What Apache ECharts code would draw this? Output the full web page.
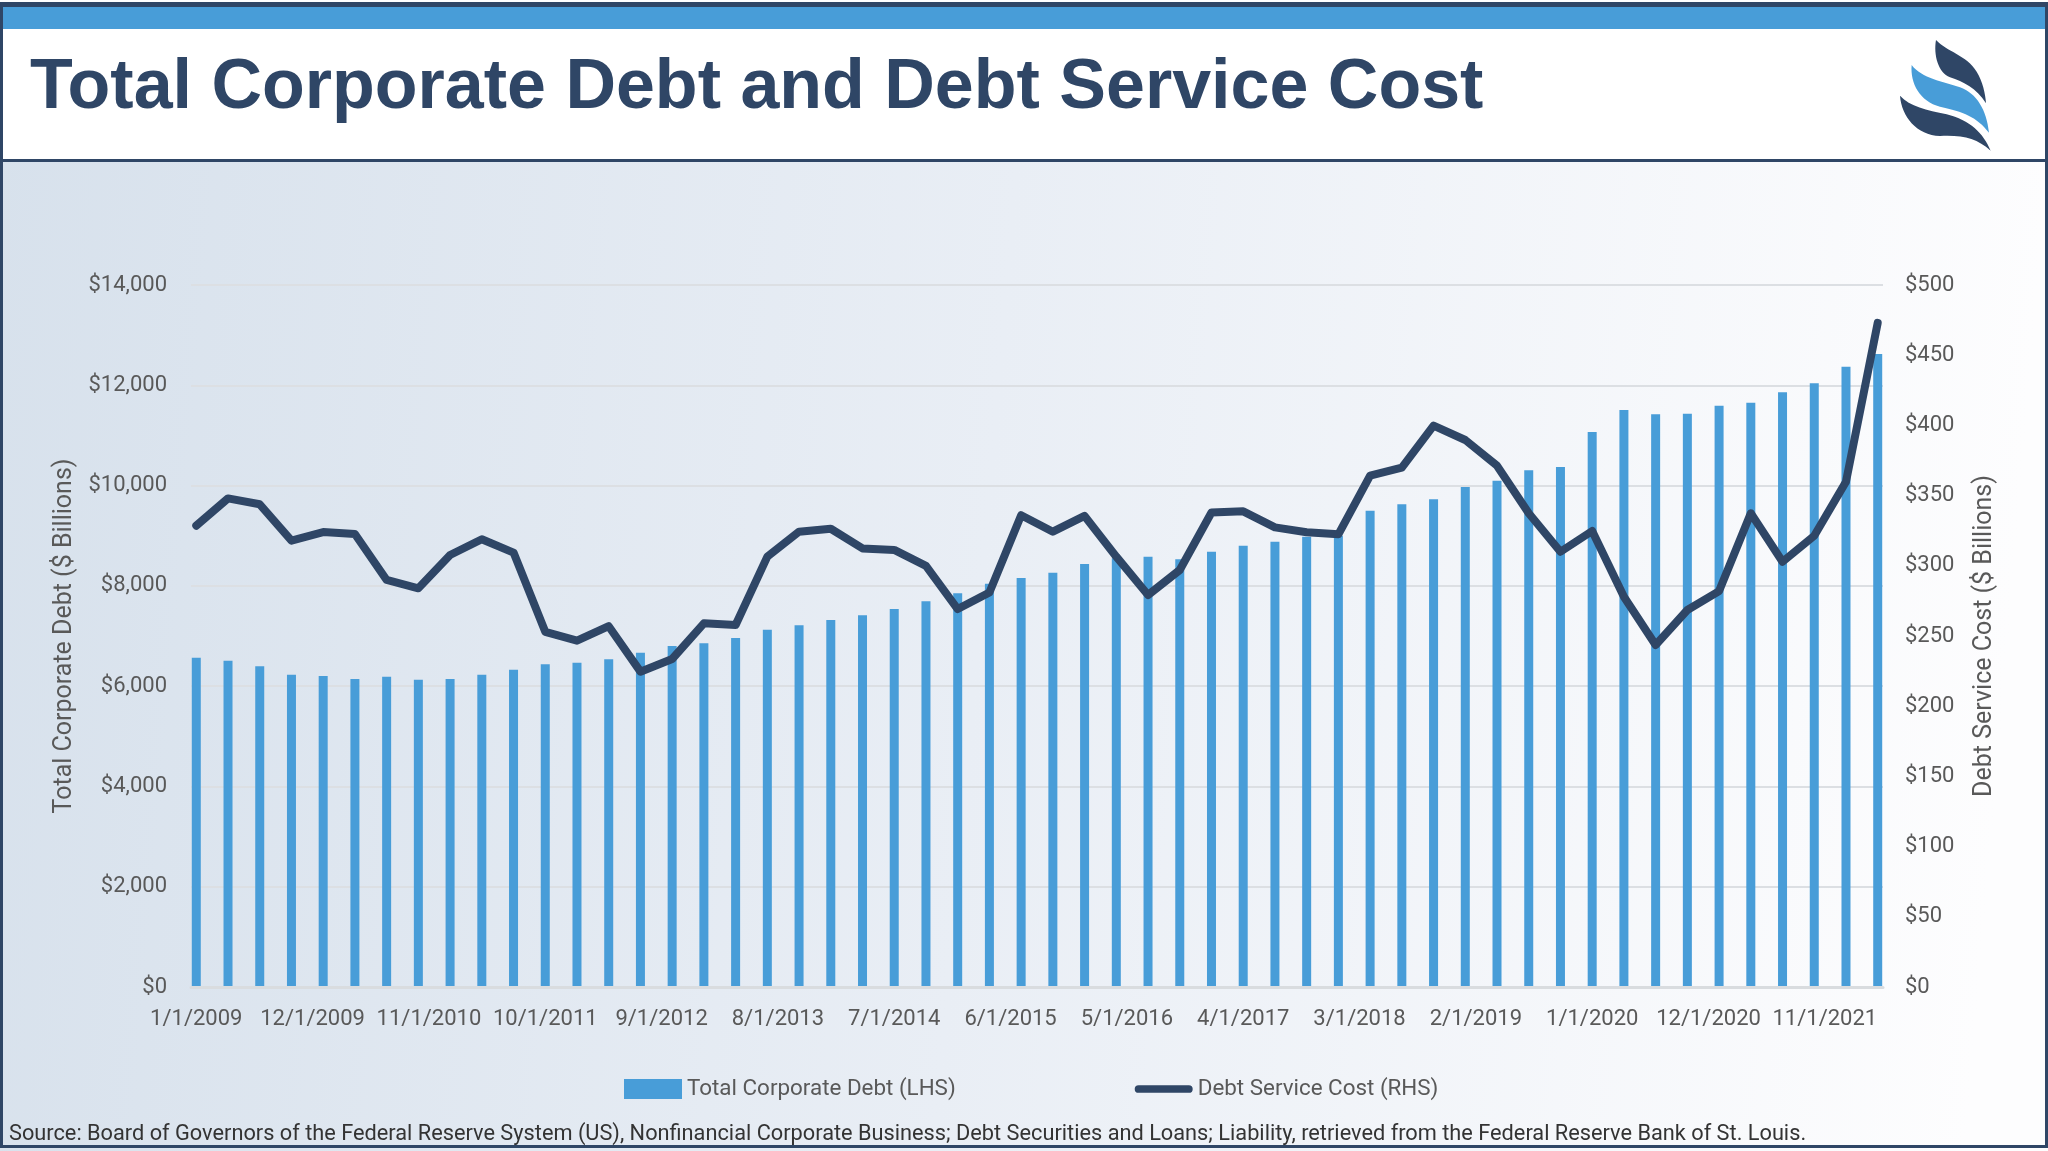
<!DOCTYPE html>
<html>
<head>
<meta charset="utf-8">
<style>
  html, body { margin: 0; padding: 0; background: #fff; }
  #main { width: 2048px; height: 1151px; }
</style>
<script src="https://cdn.jsdelivr.net/npm/echarts@6/dist/echarts.min.js"></script>
</head>
<body>
<div id="main"></div>
<script>
// quarterly values, Q1 2009 to Q2 2022
const corporateDebt = [
  6567, 6508, 6395, 6229, 6203, 6143, 6189, 6129, 6143, 6229,
  6328, 6435, 6468, 6535, 6667, 6801, 6854, 6960, 7126, 7213,
  7319, 7413, 7539, 7692, 7851, 8044, 8157, 8263, 8436, 8550,
  8582, 8530, 8682, 8802, 8881, 8981, 9000, 9500, 9626, 9727,
  9972, 10098, 10305, 10371, 11069, 11508, 11422, 11434, 11594, 11654,
  11860, 12040, 12372, 12625
];
const serviceCost = [
  328.6, 348, 343.8, 317.9, 324, 322.6, 289.9, 284, 307.7, 318.9,
  309.4, 253, 246.7, 257, 224.6, 233.6, 259, 257.8, 306.5, 324.3,
  326.4, 312.4, 311.3, 299.9, 269.2, 281, 336, 324.3, 335.5, 306.5,
  279.2, 297, 338, 338.8, 327.4, 323.9, 322.4, 364.2, 369.9, 399.8,
  389.6, 371.3, 337.4, 310, 324.8, 278, 243.6, 268.5, 282, 337.4,
  302.9, 321.4, 359.9, 473
];
const seriesNames = ['Total Corporate Debt (LHS)', 'Debt Service Cost (RHS)'];
const titleText = 'Total Corporate Debt and Debt Service Cost';
const sourceText = 'Source: Board of Governors of the Federal Reserve System (US), Nonfinancial Corporate Business; Debt Securities and Loans; Liability, retrieved from the Federal Reserve Bank of St. Louis.';

// the x axis runs by month, the data only has every third month
const months = [];
const debtByMonth = [];
const costByMonth = [];
for (let i = 0; i < 160; i++) {
  const m = i % 12 + 1;
  const y = 2009 + Math.floor(i / 12);
  months.push(m + '/1/' + y);
  debtByMonth.push(i % 3 === 0 ? corporateDebt[i / 3] : null);
  costByMonth.push(i % 3 === 0 ? serviceCost[i / 3] : null);
}

const navy = '#2f4666';
const blue = '#489dd8';
const labelFont = 'Roboto, sans-serif';
const labelSize = 22;
const money = v => '$' + v.toLocaleString('en-US');

// logo shapes, the graphic component has no plain path type
echarts.graphic.registerShape('flameTop', echarts.graphic.extendPath('M408 120 C440 155 500 165 530 215 C548 245 556 280 558 310 C530 265 490 245 450 232 C415 218 400 165 408 120 Z'));
echarts.graphic.registerShape('flameMid', echarts.graphic.extendPath('M335 195 C365 235 430 245 480 262 C530 280 560 330 567 398 C530 350 490 335 420 320 C360 305 330 250 335 195 Z'));
echarts.graphic.registerShape('flameLow', echarts.graphic.extendPath('M300 287 C330 320 380 330 440 343 C510 360 550 400 572 452 C530 415 490 405 420 408 C350 405 305 350 300 287 Z'));

// legend line: the tiny corner squares keep the icon box at 60x20 so the bar stays thin
const lineIcon = 'path://M0 0h.01v.01h-.01z M60 20h.01v.01h-.01z M4 6H56A4 4 0 0 1 56 14H4A4 4 0 0 1 4 6Z';

var myChart = echarts.init(document.getElementById('main'));

var option = {
  animation: false,
  backgroundColor: new echarts.graphic.LinearGradient(0, 0, 1, 0.15, [
    { offset: 0, color: '#d7e1ec' },
    { offset: 0.5, color: '#e9eef5' },
    { offset: 1, color: '#fdfdfe' }
  ]),
  graphic: [
    { type: 'rect', shape: { x: 0, y: 0, width: 2048, height: 160 }, style: { fill: '#fff' } },
    { type: 'rect', shape: { x: 0, y: 2, width: 2048, height: 5 }, style: { fill: navy } },
    { type: 'rect', shape: { x: 0, y: 7, width: 2048, height: 22 }, style: { fill: blue } },
    { type: 'rect', shape: { x: 0, y: 159, width: 2048, height: 3 }, style: { fill: navy } },
    { type: 'rect', shape: { x: 0, y: 1145, width: 2048, height: 3 }, style: { fill: navy } },
    { type: 'rect', shape: { x: 0, y: 2, width: 3, height: 1146 }, style: { fill: navy } },
    { type: 'rect', shape: { x: 2045, y: 2, width: 3, height: 1146 }, style: { fill: navy } },
    { type: 'group', x: 1800, y: 0, scaleX: 1 / 3, scaleY: 1 / 3, children: [
      { type: 'flameTop', style: { fill: navy } },
      { type: 'flameMid', style: { fill: blue } },
      { type: 'flameLow', style: { fill: navy } }
    ] }
  ],
  title: [
    {
      text: titleText, left: 25, top: 49,
      textStyle: { fontFamily: 'Liberation Sans', fontWeight: 'bold', fontSize: 70, color: navy }
    },
    {
      text: sourceText, left: 9, top: 1124, padding: 0,
      textStyle: { fontFamily: labelFont, fontWeight: 'normal', fontSize: 21.75, color: '#333' }
    }
  ],
  legend: {
    left: 624, top: 1078, padding: 0, itemWidth: 58, itemHeight: 20, itemGap: 179,
    textStyle: { fontFamily: labelFont, fontSize: 22.4, color: '#595959' },
    data: [
      { name: seriesNames[0], icon: 'rect' },
      { name: seriesNames[1], icon: lineIcon }
    ]
  },
  grid: { left: 191, right: 165, top: 285, bottom: 164 },
  xAxis: {
    type: 'category',
    data: months,
    z: 3,
    axisTick: { show: false },
    axisLine: { lineStyle: { color: '#d9dcdf', width: 3 } },
    axisLabel: { interval: 10, margin: 21, fontFamily: labelFont, fontSize: labelSize, color: '#595959' }
  },
  yAxis: [
    {
      type: 'value', min: 0, max: 14000, interval: 2000,
      name: 'Total Corporate Debt ($ Billions)', nameLocation: 'middle', nameGap: 112,
      nameTextStyle: { fontFamily: labelFont, fontSize: 25, color: '#595959' },
      axisLabel: { margin: 24, padding: [3, 0, 0, 0], fontFamily: labelFont, fontSize: labelSize, color: '#595959', formatter: money },
      splitLine: { lineStyle: { color: '#dcdfe3', width: 2 } }
    },
    {
      type: 'value', min: 0, max: 500, interval: 50,
      name: 'Debt Service Cost ($ Billions)', nameLocation: 'middle', nameGap: 89,
      nameTextStyle: { fontFamily: labelFont, fontSize: 25, color: '#595959' },
      axisLabel: { margin: 22, padding: [3, 0, 0, 0], fontFamily: labelFont, fontSize: labelSize, color: '#595959', formatter: money },
      splitLine: { show: false }
    }
  ],
  series: [
    {
      name: seriesNames[0], type: 'bar', data: debtByMonth, barWidth: 9,
      itemStyle: { color: blue }
    },
    {
      name: seriesNames[1], type: 'line', yAxisIndex: 1, data: costByMonth,
      connectNulls: true, showSymbol: false, symbol: 'none',
      lineStyle: { color: navy, width: 8, cap: 'round', join: 'round' },
      itemStyle: { color: navy }
    }
  ]
};

myChart.setOption(option);
</script>
</body>
</html>
